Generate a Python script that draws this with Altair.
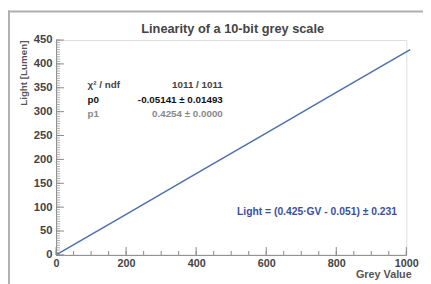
import altair as alt
import pandas as pd

# data
grey_values = [0, 200, 400, 600, 800, 1011]
light_values = [-0.05, 85.0, 170.1, 255.2, 340.3, 430.0]

x_major = [0, 200, 400, 600, 800, 1000]
x_minor = list(range(0, 1001, 50))
y_major = [0, 50, 100, 150, 200, 250, 300, 350, 400, 450]
y_minor = list(range(0, 451, 5))

stat_names = ["\u03c7\u00b2 / ndf", "p0", "p1"]
stat_values = ["1011 / 1011", "-0.05141 \u00b1 0.01493", "0.4254 \u00b1 0.0000"]
stat_y = [355, 325, 296]
stat_colors = ["#444444", "#111111", "#888888"]

formula = "Light = (0.425\u00b7GV - 0.051) \u00b1 0.231"
title_text = "Linearity of a 10-bit grey scale"

W, H = 357, 219
FONT = "Liberation Sans"

xs = alt.Scale(domain=[0, 1000], nice=False, zero=False)
ys = alt.Scale(domain=[0, 450], nice=False, zero=False)

x_axis = alt.Axis(values=x_major, format="d", labelOverlap=False, ticks=False, grid=False,
                  domainColor="#888888", domainWidth=1, labelFont=FONT, labelFontSize=11,
                  labelFontWeight="bold", labelColor="#444444", labelPadding=3,
                  labelFlush=False, title="Grey Value",
                  titleFont=FONT, titleFontSize=11, titleFontWeight="bold",
                  titleColor="#555555", titleAlign="right", titleBaseline="middle",
                  titleX=362, titleY=20, titleAnchor="end")
y_axis = alt.Axis(values=y_major, format="d", labelOverlap=False, ticks=False, grid=False,
                  domainColor="#888888", domainWidth=1, labelFont=FONT, labelFontSize=11.5,
                  labelFontWeight="bold", labelColor="#444444", labelPadding=4,
                  labelFlush=False, title="Light [Lumen]",
                  titleFont=FONT, titleFontSize=10, titleFontWeight="bold",
                  titleColor="#555555", titleAlign="right", titleBaseline="middle",
                  titleAngle=270, titleX=-33, titleY=0, titleAnchor="end")


def qx(field):
    return alt.X(field, type="quantitative", scale=xs, axis=x_axis, title="Grey Value")


def qy(field):
    return alt.Y(field, type="quantitative", scale=ys, axis=y_axis, title="Light [Lumen]")


line_df = pd.DataFrame({"gv": grey_values, "light": light_values})
line = alt.Chart(line_df).mark_line(color="#4d6fb0", strokeWidth=1.5, clip=False).encode(
    x=qx("gv"), y=qy("light"))

xmaj = alt.Chart(pd.DataFrame({"gv": x_major})).mark_rule(color="#888888", strokeWidth=1).encode(
    x=qx("gv"), y=alt.value(H), y2=alt.value(H - 8))
xmin = alt.Chart(pd.DataFrame({"gv": x_minor})).mark_rule(color="#888888", strokeWidth=1).encode(
    x=qx("gv"), y=alt.value(H), y2=alt.value(H - 4))
ymaj = alt.Chart(pd.DataFrame({"light": y_major})).mark_rule(color="#888888", strokeWidth=1).encode(
    y=qy("light"), x=alt.value(0), x2=alt.value(8))
ymin = alt.Chart(pd.DataFrame({"light": y_minor})).mark_rule(color="#999999", strokeWidth=0.8).encode(
    y=qy("light"), x=alt.value(0), x2=alt.value(4))

stats_df = pd.DataFrame({"name": stat_names, "val": stat_values, "light": stat_y, "c": stat_colors,
                         "gv1": [90] * 3, "gv2": [476] * 3})
stat_left = alt.Chart(stats_df).mark_text(align="left", baseline="middle", font=FONT, fontSize=10,
                                          fontWeight="bold").encode(
    x=qx("gv1"), y=qy("light"), text="name:N", color=alt.Color("c:N", scale=None))
stat_right = alt.Chart(stats_df).mark_text(align="right", baseline="middle", font=FONT, fontSize=10,
                                           fontWeight="bold").encode(
    x=qx("gv2"), y=qy("light"), text="val:N", color=alt.Color("c:N", scale=None))

form_df = pd.DataFrame({"gv": [745], "light": [90], "t": [formula]})
form = alt.Chart(form_df).mark_text(align="center", baseline="middle", font=FONT, fontSize=10.5,
                                    fontWeight="bold", color="#3a4fa0").encode(
    x=qx("gv"), y=qy("light"), text="t:N")

title_df = pd.DataFrame({"t": [title_text]})
title = alt.Chart(title_df).mark_text(align="center", baseline="middle", font=FONT, fontSize=13,
                                      fontWeight="bold", color="#444444").encode(
    x=alt.value(180), y=alt.value(-11), text="t:N")

frame_v = alt.Chart(pd.DataFrame({"a": [0]})).mark_rule(color="#b0b0b0", strokeWidth=2).encode(
    x=alt.value(-48), y=alt.value(-30), y2=alt.value(H + 30))
frame_h = alt.Chart(pd.DataFrame({"a": [0]})).mark_rule(color="#b0b0b0", strokeWidth=2).encode(
    x=alt.value(-49), x2=alt.value(W + 20), y=alt.value(-29))

chart = alt.layer(line, frame_v, frame_h, ymin, ymaj, xmin, xmaj, stat_left, stat_right, form,
                  title).properties(
    width=W, height=H,
    autosize=alt.AutoSizeParams(type="none"),
    padding={"left": 49, "top": 30, "right": 17, "bottom": 27},
).configure_view(stroke=None).configure(background="white")

chart.save("out.html", embed_options={"renderer": "svg", "actions": False})
